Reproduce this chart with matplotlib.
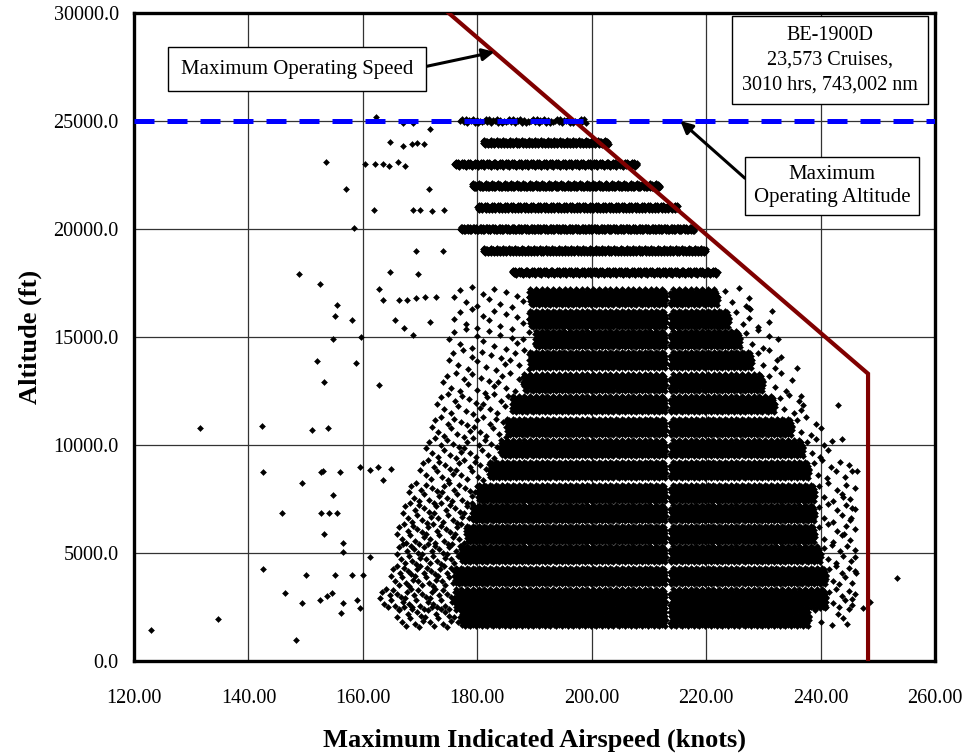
import numpy as np
import matplotlib.pyplot as plt

plt.rcParams['font.family'] = ['Liberation Serif', 'DejaVu Serif']

# Isolated cruises, one point each (knots, ft)
single_kts = [148.8, 152.5, 155.5, 155.1, 158.1, 154.8, 159.7, 152.0, 158.8, 153.2,
              162.8, 131.5, 142.4, 151.1, 153.9, 164.8, 169.3, 169.6, 174.0, 162.8,
              163.5, 166.3, 167.7, 169.3, 170.9, 172.8, 165.6, 167.2, 168.8, 171.7,
              153.6, 157.0, 162.0, 158.5, 164.8, 162.3, 160.4, 162.1, 163.5, 164.6,
              166.2, 167.4, 167.1, 168.6, 169.4, 170.7, 171.8, 167.1, 168.8, 171.6,
              168.7, 170.0, 172.1, 174.2,
              142.6, 149.4, 152.7, 153.0, 156.0, 145.9, 152.7, 154.1, 155.5, 154.8,
              153.2, 156.5, 156.5, 142.6, 146.4, 149.4, 150.1, 134.7, 122.9, 148.3,
              152.5, 153.7, 154.6, 155.1, 156.2, 156.5, 159.0, 159.5, 158.1, 160.0,
              161.3, 159.5, 161.3, 162.6, 163.5, 165.0,
              253.4, 248.7, 247.4, 244.6, 245.5, 246.2, 246.0, 244.0, 245.5, 245.3,
              244.1, 246.4, 245.5,
              243.0, 243.8, 235.9, 232.4, 231.5, 231.0, 227.5, 227.5, 227.5, 232.6,
              236.6, 236.6]
single_alt = [17900, 17450, 16500, 15970, 15800, 14900, 15000, 13900, 13800, 12900,
              12800, 10800, 10900, 10700, 10800, 18000, 19000, 17900, 19000, 17200,
              16700, 16700, 16700, 16800, 16850, 16850, 15800, 15400, 15100, 15700,
              23100, 21850, 20900, 20050, 24050, 25200, 23000, 23000, 23000, 22900,
              23100, 22900, 23850, 23950, 24000, 23950, 24650, 24900, 24900, 21850,
              20900, 20900, 20850, 20900,
              8750, 8250, 8750, 8800, 8750, 6850, 6850, 6850, 6850, 7700,
              5900, 5450, 5050, 4250, 3150, 2700, 4000, 1950, 1450, 950,
              2800, 3000, 3150, 4000, 2200, 2700, 2800, 2450, 4000, 4000,
              4800, 9000, 8850, 9000, 8400, 8900,
              3850, 2750, 2450, 1700, 2850, 4050, 4800, 7600, 7100, 6600,
              5900, 8800, 8800,
              11850, 10300, 13550, 13950, 16200, 15700, 16800, 16350, 15900, 14900,
              12250, 11600]

# Flight levels from 18,000 ft up
fl_alt = [25000, 24000, 23000, 22000, 21000, 20000, 19000, 18000]
fl_lo = [177, 181, 176, 179, 180, 177, 181, 186]
fl_hi = [199, 203, 208, 212, 215, 218, 220, 222]
fl_count = [70, 260, 380, 390, 400, 480, 470, 430]

# Cruise rows below 18,000 ft: dense core plus thinner left/right fringe
band_alt = [16850, 15850, 14900, 13950, 12900, 11900, 10850, 9850,
            8850, 7800, 6850, 5900, 4950, 3950, 2900, 2050]
core_lo = [189, 189, 190, 189, 188, 186, 185, 184, 182, 180, 179, 178, 177, 176, 176, 177]
core_hi = [222, 224, 226, 228, 230, 232, 235, 237, 238, 239, 239, 239, 240, 241, 241, 238]
fringe_lo = [176, 176, 175, 175, 174, 173, 172, 171, 170, 168, 167, 166, 166, 165, 163, 166]
fringe_hi = [227, 229, 231, 233, 235, 237, 240, 242, 245, 246, 246, 246, 246, 246, 246, 245]
left_count = [14, 14, 16, 18, 20, 22, 24, 26, 26, 28, 30, 32, 34, 36, 40, 30]
right_count = [5, 5, 6, 6, 6, 7, 7, 8, 10, 10, 10, 10, 10, 10, 10, 8]
gap_kts = 213.3

# Limits
vmo_kts = [175.0, 248.3, 248.3]
vmo_alt = [30000, 13300, 0]
max_alt = 25000

pattern = np.array([0.0, 0.62, -0.48, 0.91, -0.83, 0.27, -0.15, 0.74,
                    -0.67, 0.43, -0.95, 0.11, -0.36])


def row(alt, lo, hi, n, spread):
    xs = np.linspace(lo, hi, n)
    ys = alt + spread * np.resize(pattern, n)
    return xs, ys


xs_all, ys_all = [], []
for a, lo, hi, n in zip(fl_alt, fl_lo, fl_hi, fl_count):
    x, y = row(a, lo, hi, n, 120)
    xs_all.append(x)
    ys_all.append(y)

for i, a in enumerate(band_alt):
    spread = 460 if a < 3500 else 400
    n = int(13 * (core_hi[i] - core_lo[i]))
    x, y = row(a, core_lo[i], core_hi[i], n, spread)
    keep = np.abs(x - gap_kts) > 0.3
    xs_all.append(x[keep])
    ys_all.append(y[keep])
    x, y = row(a, fringe_lo[i], core_lo[i], left_count[i], 500)
    xs_all.append(x)
    ys_all.append(y)
    x, y = row(a, core_hi[i], fringe_hi[i], right_count[i], 480)
    xs_all.append(x)
    ys_all.append(y)

xs_all.append(np.array(single_kts))
ys_all.append(np.array(single_alt))

fig = plt.figure(figsize=(9.69, 7.56), dpi=100)
ax = fig.add_axes([0.1383, 0.1257, 0.8266, 0.8571])

ax.plot(np.concatenate(xs_all), np.concatenate(ys_all), ls='none', marker='D',
        ms=3.0, mew=0.4, color='black', zorder=3)

ax.plot(vmo_kts, vmo_alt, color='#800000', lw=3, zorder=4, solid_joinstyle='miter')
ax.axhline(max_alt, color='#0000FF', lw=3.6, dashes=(4.0, 2.6), zorder=5)

ax.set_xlim(120, 260)
ax.set_ylim(0, 30000)
ax.set_xticks(np.arange(120, 261, 20))
ax.set_yticks(np.arange(0, 30001, 5000))
ax.set_xticklabels(['%.2f' % v for v in np.arange(120, 261, 20)])
ax.set_yticklabels(['%.1f' % v for v in np.arange(0, 30001, 5000)])
ax.tick_params(length=0, labelsize=14.5)
ax.tick_params(axis='x', pad=20)
ax.tick_params(axis='y', pad=11)
ax.grid(True, color='#333333', lw=0.9, zorder=1)
ax.set_axisbelow(True)
for s in ax.spines.values():
    s.set_linewidth(2.4)

ax.set_xlabel('Maximum Indicated Airspeed (knots)', fontsize=19, fontweight='bold', labelpad=15)
ax.set_ylabel('Altitude (ft)', fontsize=19, fontweight='bold', labelpad=8)

box = dict(boxstyle='square,pad=0.6', fc='white', ec='black', lw=1.0)
ax.annotate('Maximum Operating Speed', xy=(183.0, 28200), xytext=(148.5, 27400),
            ha='center', va='center', fontsize=15, bbox=box, zorder=6,
            arrowprops=dict(arrowstyle='-|>', color='black', lw=2.2, mutation_scale=18,
                            relpos=(1, 0.5), shrinkA=0, shrinkB=0))
ax.annotate('Maximum\nOperating Altitude', xy=(215.5, 25000), xytext=(242.0, 21990),
            ha='center', va='center', fontsize=15, linespacing=1.3, zorder=6,
            bbox=dict(boxstyle='square,pad=0.4', fc='white', ec='black', lw=1.0),
            arrowprops=dict(arrowstyle='-|>', color='black', lw=2.2, mutation_scale=18,
                            relpos=(0, 0.5), shrinkA=0, shrinkB=0))
ax.text(241.7, 27820, 'BE-1900D\n23,573 Cruises,\n3010 hrs, 743,002 nm',
        ha='center', va='center', fontsize=14.5, linespacing=1.4, zorder=6,
        bbox=dict(boxstyle='square,pad=0.5', fc='white', ec='black', lw=1.0))

fig.savefig('out.png', dpi=100)
